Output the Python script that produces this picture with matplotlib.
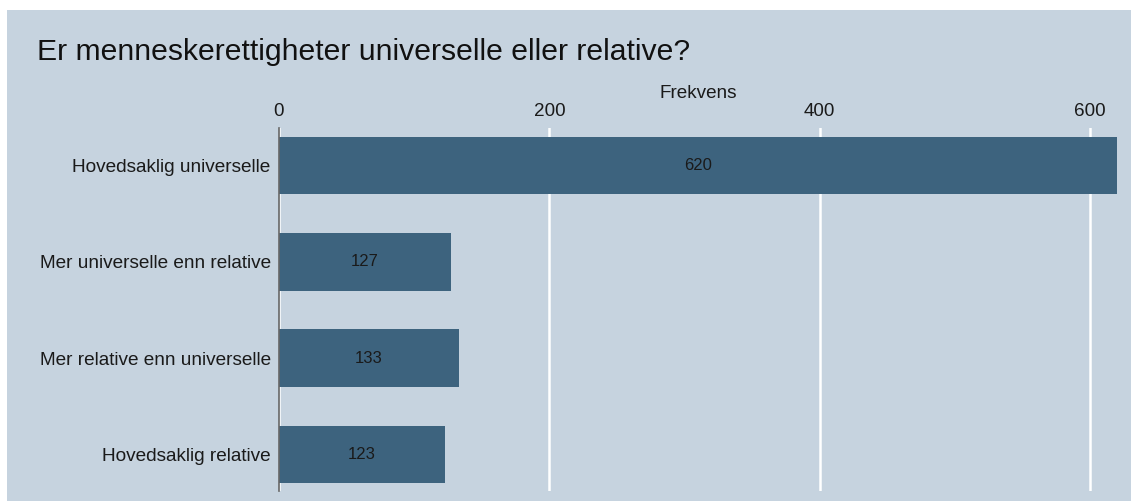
import matplotlib
matplotlib.use("Agg")
import matplotlib.pyplot as plt
from matplotlib.patches import Rectangle

plt.rcParams['font.family'] = ['Liberation Sans', 'DejaVu Sans']

# survey answers and counts
categories = ["Hovedsaklig universelle", "Mer universelle enn relative",
              "Mer relative enn universelle", "Hovedsaklig relative"]
counts = [620, 127, 133, 123]
xticks = [0, 200, 400, 600]

panel_color = "#c6d3df"
bar_color = "#3d637e"

fig = plt.figure(figsize=(11.31, 5.01), dpi=100, facecolor="white")
# shaded panel behind everything, leaving a thin white strip top and left
fig.patches.append(Rectangle((7 / 1131, 0), 1, 1 - 10 / 501, transform=fig.transFigure,
                             facecolor=panel_color, edgecolor="none", zorder=-10))

ax = fig.add_axes([279 / 1131, 10 / 501, 838 / 1131, 363 / 501])
ax.set_zorder(1)
ax.set_facecolor(panel_color)

ypos = list(range(len(categories)))
ax.barh(ypos, counts, height=0.6, color=bar_color, zorder=3)
for y, v in zip(ypos, counts):
    ax.text(v / 2, y, str(v), ha="center", va="center", fontsize=12, color="#1a1a1a", zorder=4)

ax.set_xlim(0, 620)
ax.set_ylim(3.38, -0.39)
ax.set_yticks(ypos)
ax.set_yticklabels(categories, fontsize=13.7, color="#1a1a1a")
ax.set_xticks(xticks)
ax.xaxis.tick_top()
ax.xaxis.set_label_position("top")
ax.set_xticklabels([str(t) for t in xticks], fontsize=13.6, color="#1a1a1a")
ax.tick_params(axis="both", length=0)
ax.tick_params(axis="x", pad=6)
ax.tick_params(axis="y", pad=6)
ax.set_xlabel("Frekvens", fontsize=13.6, color="#1a1a1a", labelpad=3)

ax.grid(axis="x", color="white", linewidth=1.8, zorder=1)
ax.set_axisbelow(True)
for side in ["top", "right", "bottom"]:
    ax.spines[side].set_visible(False)
ax.spines["left"].set_color("#666666")
ax.spines["left"].set_linewidth(1.2)
ax.spines["left"].set_zorder(5)

fig.text(37 / 1131, 1 - 52 / 501, "Er menneskerettigheter universelle eller relative?",
         fontsize=21.7, color="#111111", va="center", ha="left")

fig.savefig("out.png", dpi=100, facecolor=fig.get_facecolor())
